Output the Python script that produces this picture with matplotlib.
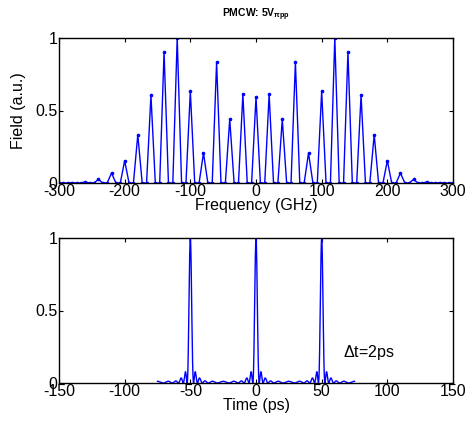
import numpy as np
import matplotlib
matplotlib.use("Agg")
import matplotlib.pyplot as plt

plt.rcParams['font.family'] = ['Liberation Sans', 'DejaVu Sans']
plt.rcParams['mathtext.fontset'] = 'custom'
plt.rcParams['mathtext.rm'] = 'Liberation Sans'
plt.rcParams['mathtext.it'] = 'Liberation Sans:italic'
plt.rcParams['mathtext.bf'] = 'Liberation Sans:bold'
plt.rcParams['axes.unicode_minus'] = False

# Comb line amplitudes at harmonics n = 0..15 of the 20 GHz line spacing (symmetric)
harmonic_index = list(range(0, 16))
harmonic_amp = [0.593, 0.611, 0.439, 0.834, 0.207, 0.632, 1.00, 0.903,
                0.605, 0.333, 0.154, 0.069, 0.025, 0.007, 0.003, 0.001]
line_spacing_ghz = 20.0
samples_per_line = 3          # spectral grid is 20/3 GHz (150 ps window)
freq_ticks = [-300, -200, -100, 0, 100, 200, 300]
time_ticks = [-150, -100, -50, 0, 50, 100, 150]
y_ticks = [0, 0.5, 1]
time_window_ps = (-75, 75)

# Spectral grid with comb lines on every third bin
n_max = harmonic_index[-1]
k = np.arange(-n_max * samples_per_line, n_max * samples_per_line + 1)
freq = k * line_spacing_ghz / samples_per_line
field = np.zeros(len(k))
for n, a in zip(harmonic_index, harmonic_amp):
    field[k == n * samples_per_line] = a
    field[k == -n * samples_per_line] = a

# Temporal pulse train from the comb lines (flat spectral phase), normalised intensity
t = np.linspace(time_window_ps[0], time_window_ps[1], 1501)
n_all = np.arange(-n_max, n_max + 1)
a_all = np.array([harmonic_amp[abs(n)] for n in n_all])
f_all = n_all * line_spacing_ghz
et = np.abs((a_all[None, :] * np.exp(2j * np.pi * f_all[None, :] * t[:, None] * 1e-3)).sum(axis=1)) ** 2
et = et / et.max()

fig = plt.figure(figsize=(4.69, 4.21), dpi=100)
W, H = 469, 421
ax1 = fig.add_axes([59 / W, 1 - 183 / H, 394 / W, 145 / H])
ax2 = fig.add_axes([59 / W, 1 - 383 / H, 394 / W, 145 / H])

blue = (0, 0, 1)
fs = 11.5

ax1.plot(freq, field, color=blue, lw=1.0, marker='.', ms=3.2)
ax1.set_xlim(-300, 300)
ax1.set_ylim(0, 1)
ax1.set_xticks(freq_ticks)
ax1.set_yticks(y_ticks)
ax1.set_yticklabels(['0', '0.5', '1'])
ax1.set_xlabel('Frequency (GHz)', fontsize=fs, labelpad=-1)
ax1.set_ylabel('Field (a.u.)', fontsize=fs, labelpad=7)
ax1.set_title(r'PMCW: 5V$_{\mathbf{\pi pp}}$', fontsize=7.5, fontweight='bold', pad=15)

ax2.plot(t, et, color=blue, lw=1.0)
ax2.set_xlim(-150, 150)
ax2.set_ylim(0, 1)
ax2.set_xticks(time_ticks)
ax2.set_yticks(y_ticks)
ax2.set_yticklabels(['0', '0.5', '1'])
ax2.set_xlabel('Time (ps)', fontsize=fs, labelpad=-1)
ax2.text(66, 0.21, r'$\Delta$t=2ps', fontsize=fs, va='center', ha='left')

for ax in (ax1, ax2):
    ax.tick_params(direction='in', top=True, right=True, length=3, width=0.8,
                   labelsize=fs, pad=1)
    for s in ax.spines.values():
        s.set_linewidth(1.0)

fig.savefig('out.png', dpi=100)
